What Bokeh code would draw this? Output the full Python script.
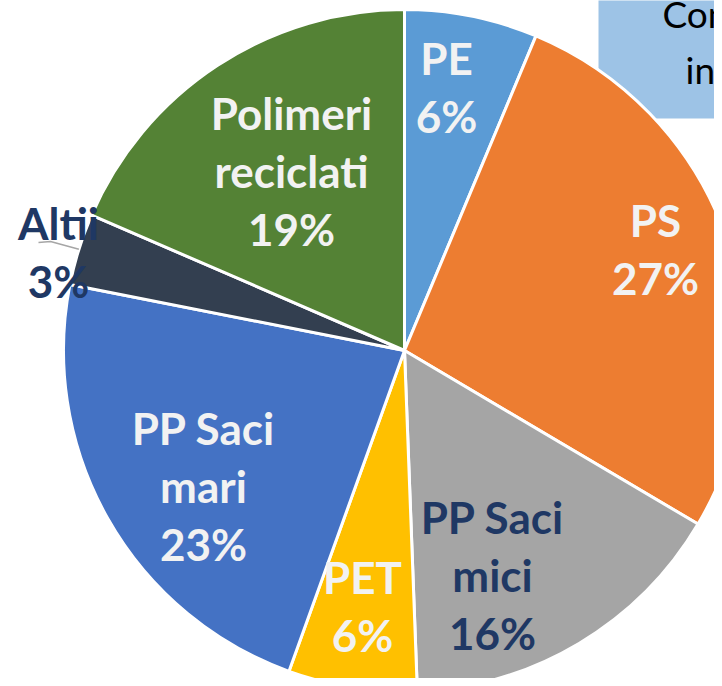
import numpy as np
from bokeh.plotting import figure
from bokeh.models import Range1d, ColumnDataSource
from bokeh.core.properties import value
from bokeh.embed import file_html
from bokeh.resources import INLINE

# ---- data ----
categories = ["PE", "PS", "PP Saci mici", "PET", "PP Saci mari", "Altii", "Polimeri reciclati"]
shares = [6.3, 27.2, 15.9, 6.1, 22.6, 3.4, 18.5]
pct_labels = ["6%", "27%", "16%", "6%", "23%", "3%", "19%"]
name_lines = [["PE"], ["PS"], ["PP Saci", "mici"], ["PET"], ["PP Saci", "mari"], ["Altii"], ["Polimeri", "reciclati"]]
colors = ["#5B9BD5", "#ED7D31", "#A5A5A5", "#FFC000", "#4472C4", "#333F50", "#548235"]
label_colors = ["#F2F2F2", "#F2F2F2", "#1F3864", "#F2F2F2", "#F2F2F2", "#1F3864", "#F2F2F2"]
title_lines = ["Componenta", "inaintea"]

# ---- layout (reference pixel coordinates) ----
W, H = 714, 678
def Y(py):
    return H - py

TXT_SHIFT = 16  # compensate renderer baseline offset
def YT(py):
    return H - (py - TXT_SHIFT)

cx, cy, R = 404, Y(350), 341
label_anchor = [(446, 73), (655, 235), (492, 532), (362, 592), (203, 443), (58, 238), (291, 128)]
LINE_STEP = 58

p = figure(width=W, height=H, output_backend="svg", toolbar_location=None,
           x_range=Range1d(0, W), y_range=Range1d(0, H), min_border=0)
p.axis.visible = False
p.grid.visible = False
p.outline_line_color = None
p.background_fill_color = "white"
p.border_fill_color = "white"

# title box (partially outside view)
p.quad(left=[598], right=[800], top=[Y(-10)], bottom=[Y(118)], fill_color="#9DC3E6", line_color=None)
p.text(x=[662, 685], y=[YT(29), YT(85)], text=title_lines, text_font=value("Lato"),
       text_font_size="37px", text_color="#000000", text_align="left", text_baseline="alphabetic")

# pie
vals = np.array(shares, dtype=float)
frac = vals / vals.sum()
cum = np.concatenate([[0.0], np.cumsum(frac)])
a_start = np.pi / 2 - 2 * np.pi * cum[:-1]
a_end = np.pi / 2 - 2 * np.pi * cum[1:]
src = ColumnDataSource(dict(start=a_end, end=a_start, color=colors, cat=categories))
p.wedge(x=cx, y=cy, radius=R, start_angle="start", end_angle="end", fill_color="color",
        line_color="white", line_width=3, source=src)

# leader line for Altii
i_alt = categories.index("Altii")
mid = (a_start[i_alt] + a_end[i_alt]) / 2
ex, ey = cx + R * np.cos(mid), cy + R * np.sin(mid)
p.line(x=[38, 50, ex], y=[Y(242), Y(241), ey], line_color="#A6A6A6", line_width=1.5)

# labels
xs, ys, ts, cs = [], [], [], []
for i in range(len(categories)):
    lines = name_lines[i] + [pct_labels[i]]
    ax, ay = label_anchor[i]
    for k, t in enumerate(lines):
        xs.append(ax)
        ys.append(YT(ay + k * LINE_STEP))
        ts.append(t)
        cs.append(label_colors[i])
lsrc = ColumnDataSource(dict(x=xs, y=ys, text=ts, color=cs))
p.text(x="x", y="y", text="text", text_color="color", source=lsrc, text_font=value("Lato"),
       text_font_style="bold", text_font_size="44px", text_align="center", text_baseline="alphabetic")

open("out.html", "w").write(file_html(p, INLINE))
